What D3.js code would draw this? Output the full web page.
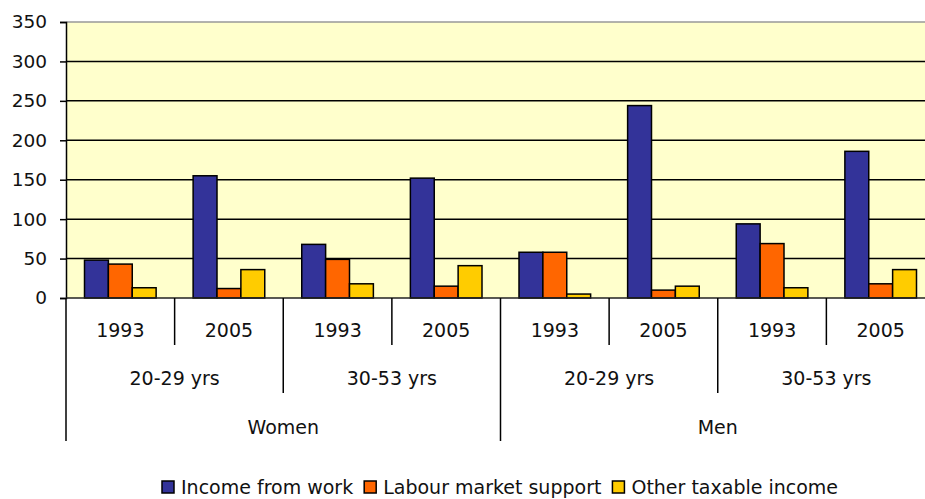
<!DOCTYPE html>
<html>
<head>
<meta charset="utf-8">
<script src="https://cdn.jsdelivr.net/npm/d3@7"></script>
<style>
  body { margin: 0; background: #fff; }
  svg text { font-family: "DejaVu Sans", sans-serif; fill: #111; }
</style>
</head>
<body>
<div id="chart"></div>
<script>
// Data
const genders = ['Women', 'Men'];
const ages = ['20-29 yrs', '30-53 yrs'];
const years = ['1993', '2005'];
const seriesNames = ['Income from work', 'Labour market support', 'Other taxable income'];
const seriesColors = ['#333399', '#ff6600', '#ffcc00'];
// order: Women 20-29 (1993, 2005), Women 30-53, Men 20-29, Men 30-53
const incomeFromWork = [48, 155, 68, 152, 58, 244, 94, 186];
const labourMarketSupport = [43, 12, 49, 15, 58, 10, 69, 18];
const otherTaxableIncome = [13, 36, 18, 41, 5, 15, 13, 36];
const yTicks = [0, 50, 100, 150, 200, 250, 300, 350];

const W = 925, H = 499;
const plot = { left: 66, right: 935, top: 22, bottom: 298 };

// build categories
const cats = [];
genders.forEach(g => ages.forEach(a => years.forEach(yr => cats.push({ g, a, yr, key: g + '|' + a + '|' + yr }))));
const values = [incomeFromWork, labourMarketSupport, otherTaxableIncome];

const svg = d3.select('#chart').append('svg')
  .attr('width', W)
  .attr('height', H);

const x0 = d3.scaleBand()
  .domain(cats.map(d => d.key))
  .range([plot.left, plot.right]);
const pad = 18.5;
const x1 = d3.scaleBand()
  .domain(seriesNames)
  .range([pad, x0.bandwidth() - pad]);
const y = d3.scaleLinear()
  .domain([0, 350])
  .range([plot.bottom, plot.top]);

// plot background
svg.append('rect')
  .attr('x', plot.left).attr('y', plot.top)
  .attr('width', plot.right - plot.left).attr('height', plot.bottom - plot.top)
  .attr('fill', '#ffffcc');

// gridlines
svg.append('g')
  .selectAll('line')
  .data(yTicks.filter(t => t > 0 && t < 350))
  .join('line')
    .attr('x1', plot.left).attr('x2', plot.right)
    .attr('y1', d => y(d)).attr('y2', d => y(d))
    .attr('stroke', '#000').attr('stroke-width', 1.5);
svg.append('line')
  .attr('x1', plot.left).attr('x2', plot.right)
  .attr('y1', y(350)).attr('y2', y(350))
  .attr('stroke', '#999').attr('stroke-width', 1.5);

// bars
const groups = svg.append('g')
  .selectAll('g')
  .data(cats)
  .join('g')
    .attr('transform', d => `translate(${x0(d.key)},0)`);
groups.selectAll('rect')
  .data((d, i) => seriesNames.map((s, j) => ({ s, v: values[j][i], c: seriesColors[j] })))
  .join('rect')
    .attr('x', d => x1(d.s))
    .attr('y', d => y(d.v))
    .attr('width', x1.bandwidth())
    .attr('height', d => y(0) - y(d.v))
    .attr('fill', d => d.c)
    .attr('stroke', '#000')
    .attr('stroke-width', 1.5);

// y axis
const yAxis = svg.append('g')
  .attr('transform', `translate(${plot.left},0)`)
  .call(d3.axisLeft(y).tickValues(yTicks).tickSize(6).tickPadding(13));
yAxis.select('.domain').attr('stroke', '#000').attr('stroke-width', 1.5);
yAxis.selectAll('.tick line').attr('stroke', '#000').attr('stroke-width', 1.5);
yAxis.selectAll('.tick text')
  .style('font-family', '"DejaVu Sans", sans-serif')
  .style('font-size', '18.5px')
  .attr('fill', '#111');

// x axis baseline
svg.append('line')
  .attr('x1', plot.left).attr('x2', plot.right)
  .attr('y1', y(0)).attr('y2', y(0))
  .attr('stroke', '#222').attr('stroke-width', 1.5);

// hierarchical category dividers
const levelBottom = [345, 393, 441];
const divs = d3.range(cats.length + 1).map(i => {
  const xPos = i < cats.length ? x0(cats[i].key) : plot.right;
  const lvl = i % 4 === 0 ? 2 : (i % 2 === 0 ? 1 : 0);
  return { xPos, lvl };
});
svg.append('g')
  .selectAll('line')
  .data(divs)
  .join('line')
    .attr('x1', d => d.xPos).attr('x2', d => d.xPos)
    .attr('y1', y(0)).attr('y2', d => levelBottom[d.lvl])
    .attr('stroke', '#000').attr('stroke-width', 1.5);

// labels
const fs = '19px';
svg.append('g')
  .selectAll('text')
  .data(cats)
  .join('text')
    .attr('x', d => x0(d.key) + x0.bandwidth() / 2)
    .attr('y', 337)
    .attr('text-anchor', 'middle')
    .style('font-size', fs)
    .text(d => d.yr);

const ageCats = [];
genders.forEach(g => ages.forEach(a => ageCats.push({ g, a })));
svg.append('g')
  .selectAll('text')
  .data(ageCats)
  .join('text')
    .attr('x', (d, i) => x0(cats[i * 2].key) + x0.bandwidth())
    .attr('y', 385)
    .attr('text-anchor', 'middle')
    .style('font-size', fs)
    .text(d => d.a);

svg.append('g')
  .selectAll('text')
  .data(genders)
  .join('text')
    .attr('x', (d, i) => x0(cats[i * 4].key) + 2 * x0.bandwidth())
    .attr('y', 434)
    .attr('text-anchor', 'middle')
    .style('font-size', fs)
    .text(d => d);

// legend
const legend = svg.append('g');
let lx = 162;
seriesNames.forEach((name, i) => {
  legend.append('rect')
    .attr('x', lx).attr('y', 481)
    .attr('width', 12).attr('height', 12)
    .attr('fill', seriesColors[i])
    .attr('stroke', '#000').attr('stroke-width', 1.5);
  const t = legend.append('text')
    .attr('x', lx + 19)
    .attr('y', 494)
    .style('font-size', fs)
    .text(name);
  lx += 19 + t.node().getComputedTextLength() + 11;
});
</script>
</body>
</html>
